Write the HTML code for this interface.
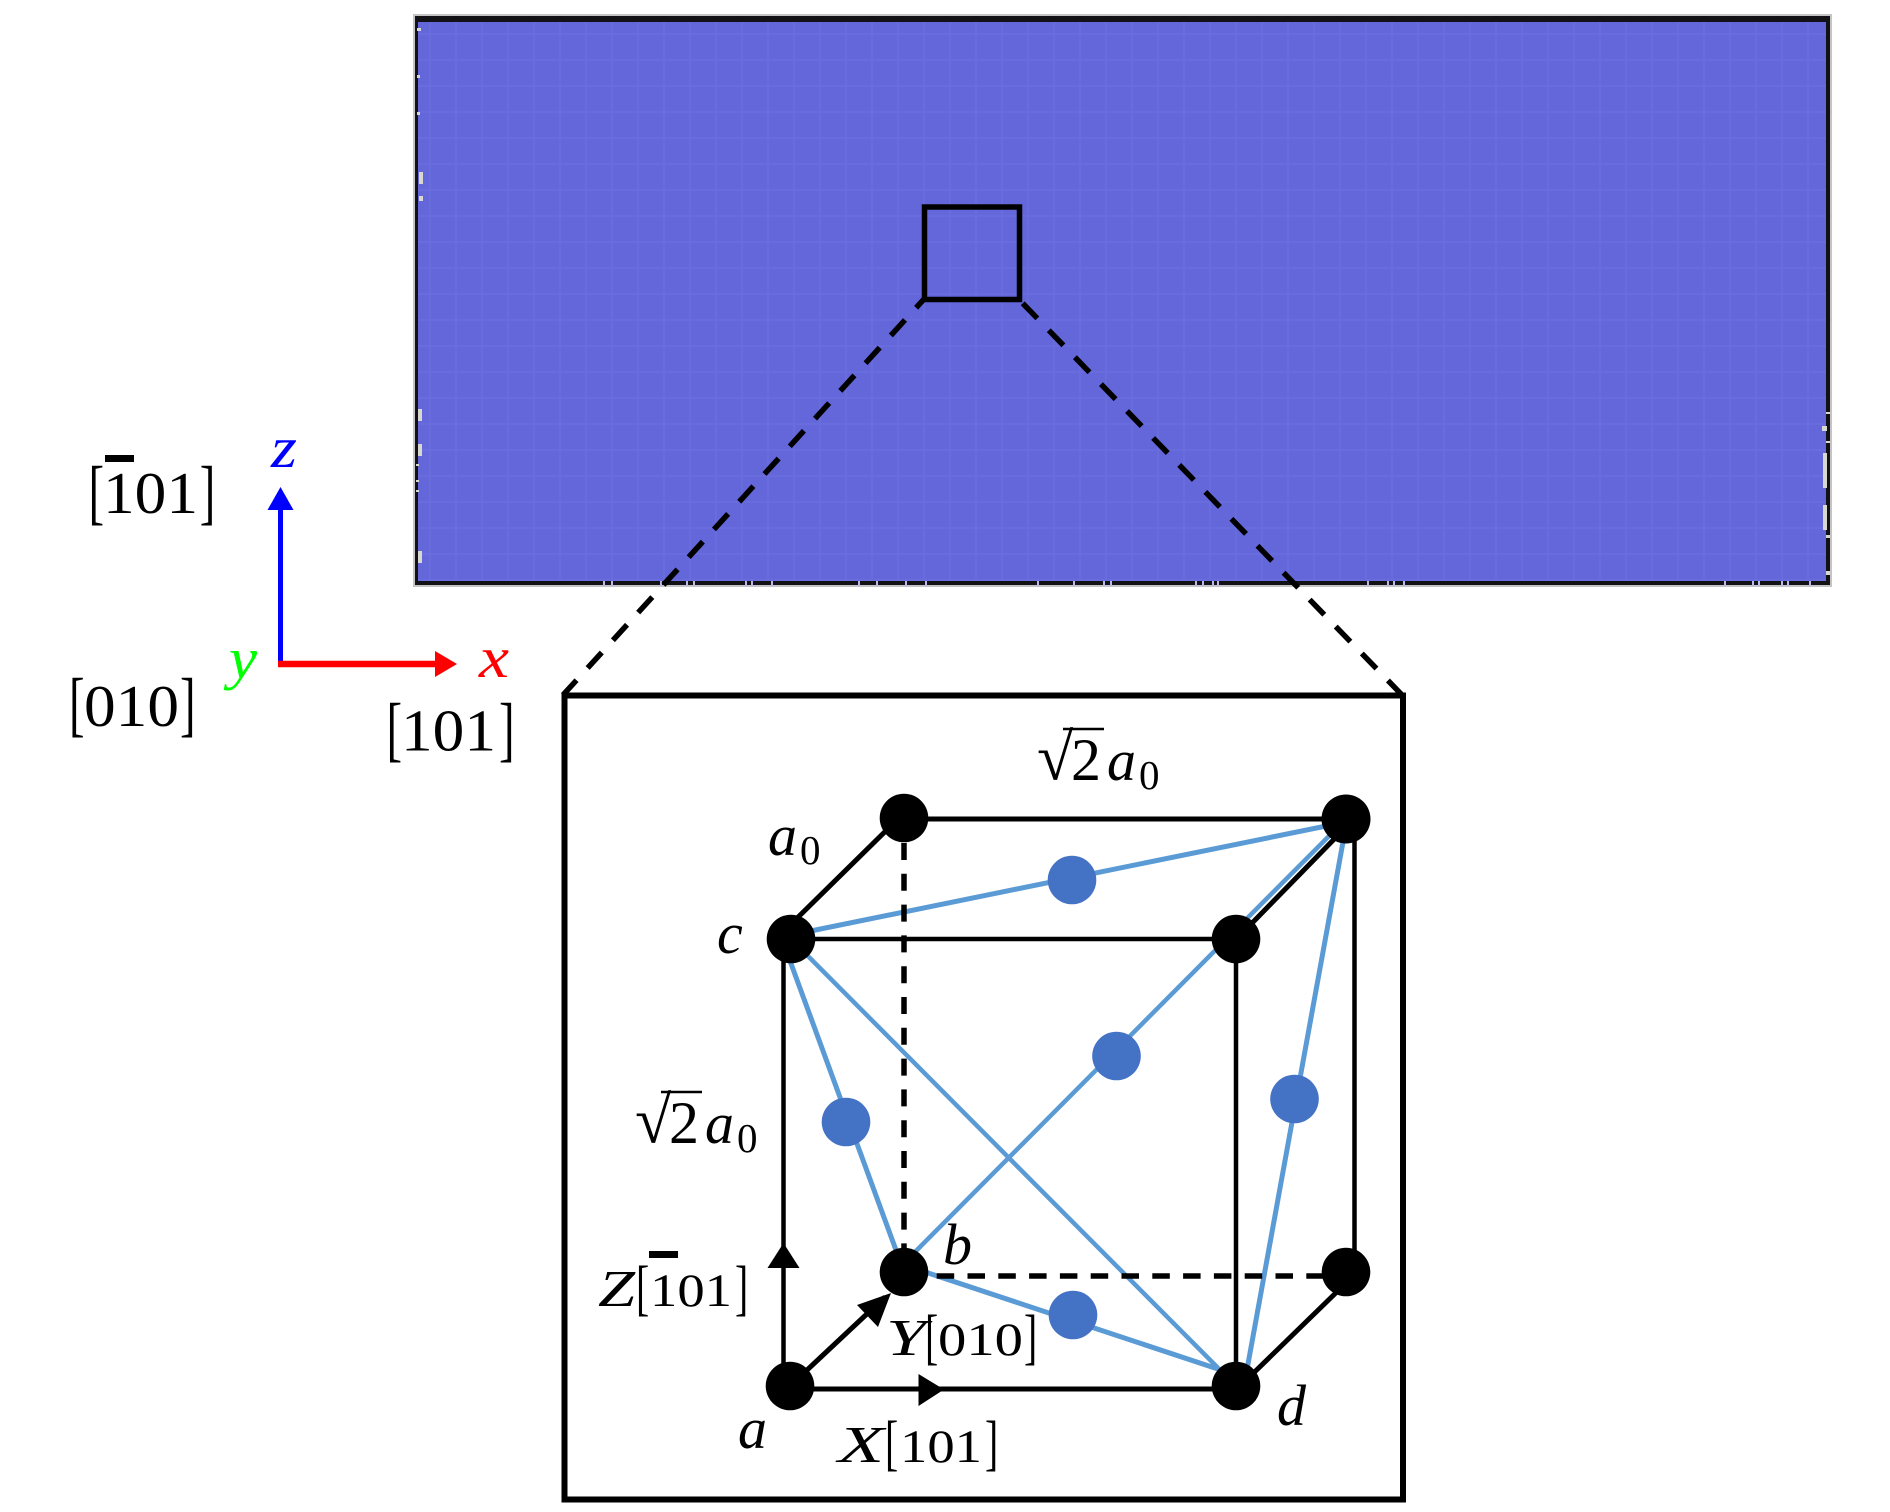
<!DOCTYPE html>
<html>
<head>
<meta charset="utf-8">
<style>
html,body{margin:0;padding:0;background:#fff;width:1890px;height:1512px;overflow:hidden}
svg{display:block}
text{font-family:"Liberation Serif",serif;fill:#000}
.d{font-size:59px}
.m{font-size:47px}
.i{font-style:italic;font-size:58px}
.mi{font-style:italic;font-size:52px}
.s{font-size:41px}
.bl{font-size:72px}
.bm{font-size:61px}
.r{font-size:66px}
</style>
</head>
<body>
<svg width="1890" height="1512" viewBox="0 0 1890 1512" xmlns="http://www.w3.org/2000/svg">
<defs>
<pattern id="tex" x="418" y="22" width="52" height="52" patternUnits="userSpaceOnUse">
<rect width="52" height="52" fill="#6367da"/>
<path d="M0 12H52M0 38H52M12 0V52M38 0V52" stroke="#7376e0" stroke-width="1.5" opacity=".35"/>
</pattern>
</defs>

<!-- simulation panel -->
<rect x="413" y="14" width="1419" height="573" fill="#c4c4c4"/>
<rect x="415" y="16" width="1415" height="569" fill="#111116"/>
<rect x="418" y="22" width="1408" height="559" fill="url(#tex)"/>
<g fill="#b9bbea">
<rect x="603" y="581" width="2" height="5"/><rect x="611" y="581" width="2" height="5"/><rect x="660" y="581" width="2" height="5"/><rect x="686" y="581" width="2" height="5"/><rect x="693" y="581" width="2" height="5"/><rect x="745" y="581" width="2" height="5"/><rect x="751" y="581" width="2" height="5"/><rect x="771" y="581" width="2" height="5"/><rect x="858" y="581" width="2" height="5"/><rect x="876" y="581" width="2" height="5"/><rect x="905" y="581" width="2" height="5"/><rect x="925" y="581" width="2" height="5"/><rect x="1037" y="581" width="2" height="5"/><rect x="1073" y="581" width="2" height="5"/><rect x="1103" y="581" width="2" height="5"/><rect x="1110" y="581" width="2" height="5"/><rect x="1195" y="581" width="2" height="5"/><rect x="1202" y="581" width="2" height="5"/><rect x="1212" y="581" width="2" height="5"/><rect x="1217" y="581" width="2" height="5"/><rect x="1367" y="581" width="2" height="5"/><rect x="1387" y="581" width="2" height="5"/><rect x="1393" y="581" width="2" height="5"/><rect x="1403" y="581" width="2" height="5"/><rect x="1724" y="581" width="2" height="5"/><rect x="1752" y="581" width="2" height="5"/><rect x="1758" y="581" width="2" height="5"/><rect x="1781" y="581" width="2" height="5"/><rect x="1787" y="581" width="2" height="5"/><rect x="1809" y="581" width="2" height="5"/>
</g>
<g fill="#d8d8d0">
<rect x="419" y="172" width="4" height="12"/><rect x="419" y="196" width="4" height="5"/><rect x="417" y="28" width="4" height="3"/><rect x="417" y="75" width="3" height="3"/><rect x="417" y="112" width="3" height="3"/><rect x="418" y="409" width="4" height="12"/><rect x="418" y="444" width="4" height="12"/><rect x="418" y="551" width="4" height="12"/><rect x="416" y="464" width="3" height="2"/><rect x="416" y="480" width="3" height="2"/><rect x="416" y="490" width="3" height="2"/>
<rect x="1823" y="453" width="4" height="35"/><rect x="1823" y="505" width="4" height="25"/><rect x="1822" y="426" width="5" height="5"/><rect x="1826" y="412" width="4" height="2"/><rect x="1826" y="441" width="4" height="2"/><rect x="1826" y="535" width="4" height="3"/><rect x="1826" y="571" width="4" height="4"/>
</g>

<!-- zoom window -->
<rect x="924.5" y="207" width="95" height="92.5" fill="none" stroke="#000" stroke-width="5.5"/>
<g fill="none" stroke="#000" stroke-width="5.5">
<line x1="925" y1="298" x2="563" y2="695" stroke-dasharray="21 16.5" stroke-dashoffset="7.8"/>
<line x1="1022.7" y1="303.3" x2="1403" y2="696" stroke-dasharray="21 16.5"/>
</g>
<rect x="564.5" y="695.5" width="838.5" height="804" fill="none" stroke="#000" stroke-width="6"/>

<!-- axes -->
<line x1="280.5" y1="664" x2="280.5" y2="505" stroke="#0000ff" stroke-width="5"/>
<polygon points="280.5,487 267.5,510 293.5,510" fill="#0000ff"/>
<line x1="278" y1="664" x2="440" y2="664" stroke="#ff0000" stroke-width="6.5"/>
<polygon points="457,664 435,651 435,677" fill="#ff0000"/>

<text class="i" x="271" y="467" textLength="26" lengthAdjust="spacingAndGlyphs" style="fill:#0000ff">z</text>
<text class="i" x="479" y="677" textLength="30" lengthAdjust="spacingAndGlyphs" style="fill:#ff0000">x</text>
<text class="i" x="229" y="678" textLength="28" lengthAdjust="spacingAndGlyphs" style="fill:#00ff00">y</text>

<!-- [-101] -->
<rect x="105" y="455" width="29" height="7"/>
<text class="bl" transform="translate(88.5,516) scale(.65,1)">[</text>
<text class="d" x="103" y="513" textLength="95" lengthAdjust="spacingAndGlyphs">101</text>
<text class="bl" transform="translate(199.8,516) scale(.65,1)">]</text>
<!-- [010] -->
<text class="bl" transform="translate(69,728) scale(.65,1)">[</text>
<text class="d" x="84" y="726" textLength="95" lengthAdjust="spacingAndGlyphs">010</text>
<text class="bl" transform="translate(180,728) scale(.65,1)">]</text>
<!-- [101] -->
<text class="bl" transform="translate(386.5,753) scale(.65,1)">[</text>
<text class="d" x="401" y="750.5" textLength="95" lengthAdjust="spacingAndGlyphs">101</text>
<text class="bl" transform="translate(499,753) scale(.65,1)">]</text>

<!-- blue structure lines -->
<g fill="none" stroke="#5b9bd5" stroke-width="5">
<line x1="791" y1="935" x2="1346" y2="822"/>
<line x1="782" y1="939" x2="904" y2="1272"/>
<line x1="791" y1="939" x2="1236" y2="1386" stroke-width="4.5"/>
<line x1="905" y1="1262" x2="1340" y2="825" stroke-width="4.5"/>
<line x1="904" y1="1265" x2="1236" y2="1375"/>
<line x1="1347" y1="820" x2="1244" y2="1386"/>
</g>

<!-- cube edges -->
<g fill="none" stroke="#000" stroke-width="5">
<line x1="904" y1="819" x2="1346" y2="819"/>
<line x1="785" y1="930" x2="904" y2="813"/>
<line x1="791" y1="939" x2="1236" y2="939" stroke-width="4.5"/>
<line x1="783.5" y1="939" x2="783.5" y2="1386" stroke-width="4.5"/>
<line x1="1236" y1="939" x2="1236" y2="1386" stroke-width="4.5"/>
<line x1="1354.5" y1="819" x2="1354.5" y2="1272" stroke-width="4.5"/>
<line x1="1236" y1="939.5" x2="1346" y2="827"/>
<line x1="1346" y1="1283" x2="1236" y2="1390"/>
<line x1="790" y1="1386" x2="885" y2="1297"/>
<line x1="790" y1="1389" x2="1236" y2="1389"/>
<line x1="904" y1="843" x2="904" y2="1250" stroke-dasharray="17 13.8" stroke-width="5.5"/>
<line x1="936.7" y1="1276" x2="1325" y2="1276" stroke-dasharray="17.5 13.3" stroke-width="5.5"/>
</g>

<!-- arrowheads -->
<polygon points="783.5,1243 767.5,1268 799.5,1268"/>
<polygon points="944,1389.5 918.5,1374 918.5,1406"/>
<polygon points="891,1293 857,1305 878,1327"/>

<!-- atoms -->
<g fill="#000">
<circle cx="904" cy="818" r="24.3"/>
<circle cx="1346" cy="819" r="24.5"/>
<circle cx="791" cy="939" r="24.3"/>
<circle cx="1236" cy="939" r="24.3"/>
<circle cx="904" cy="1272" r="24.3"/>
<circle cx="1346" cy="1272" r="24.3"/>
<circle cx="790" cy="1386" r="24.3"/>
<circle cx="1236" cy="1386" r="24.3"/>
</g>
<g fill="#4472c4">
<circle cx="1072" cy="880" r="24.3"/>
<circle cx="1116.5" cy="1056" r="24.3"/>
<circle cx="846" cy="1122" r="24.3"/>
<circle cx="1294.5" cy="1099" r="24.3"/>
<circle cx="1073" cy="1315" r="24.3"/>
</g>

<!-- cube labels -->
<text class="r" x="1037" y="779.5">√</text>
<line x1="1063" y1="729" x2="1104" y2="729" stroke="#000" stroke-width="2.5"/>
<text class="i" x="1071" y="780" style="font-style:normal;font-size:60px">2</text>
<text class="i" x="1107" y="780">a</text>
<text class="s" x="1139" y="789">0</text>

<text class="r" x="635" y="1142.5">√</text>
<line x1="661" y1="1092" x2="702" y2="1092" stroke="#000" stroke-width="2.5"/>
<text class="i" x="669" y="1143" style="font-style:normal;font-size:60px">2</text>
<text class="i" x="705" y="1143">a</text>
<text class="s" x="737" y="1152">0</text>

<text class="i" x="768" y="855">a</text>
<text class="s" x="800" y="864">0</text>
<text class="i" x="717" y="953">c</text>
<text class="i" x="943" y="1264">b</text>
<text class="i" x="1277" y="1425">d</text>
<text class="i" x="738" y="1448">a</text>

<!-- Z[-101] -->
<rect x="649" y="1251" width="29" height="7"/>
<text class="mi" x="598" y="1306" textLength="37" lengthAdjust="spacingAndGlyphs">Z</text>
<text class="bm" transform="translate(636,1308.5) scale(.65,1)">[</text>
<text class="m" x="650" y="1306" textLength="82" lengthAdjust="spacingAndGlyphs">101</text>
<text class="bm" transform="translate(735,1308.5) scale(.65,1)">]</text>
<!-- Y[010] -->
<text class="mi" x="886" y="1355" textLength="40" lengthAdjust="spacingAndGlyphs">Y</text>
<text class="bm" transform="translate(925,1357.5) scale(.65,1)">[</text>
<text class="m" x="938" y="1355" textLength="85" lengthAdjust="spacingAndGlyphs">010</text>
<text class="bm" transform="translate(1024,1357.5) scale(.65,1)">]</text>
<!-- X[101] -->
<text class="mi" x="838" y="1462" textLength="46" lengthAdjust="spacingAndGlyphs">X</text>
<text class="bm" transform="translate(885,1463.5) scale(.65,1)">[</text>
<text class="m" x="900" y="1462" textLength="82" lengthAdjust="spacingAndGlyphs">101</text>
<text class="bm" transform="translate(985,1463.5) scale(.65,1)">]</text>
</svg>
</body>
</html>
